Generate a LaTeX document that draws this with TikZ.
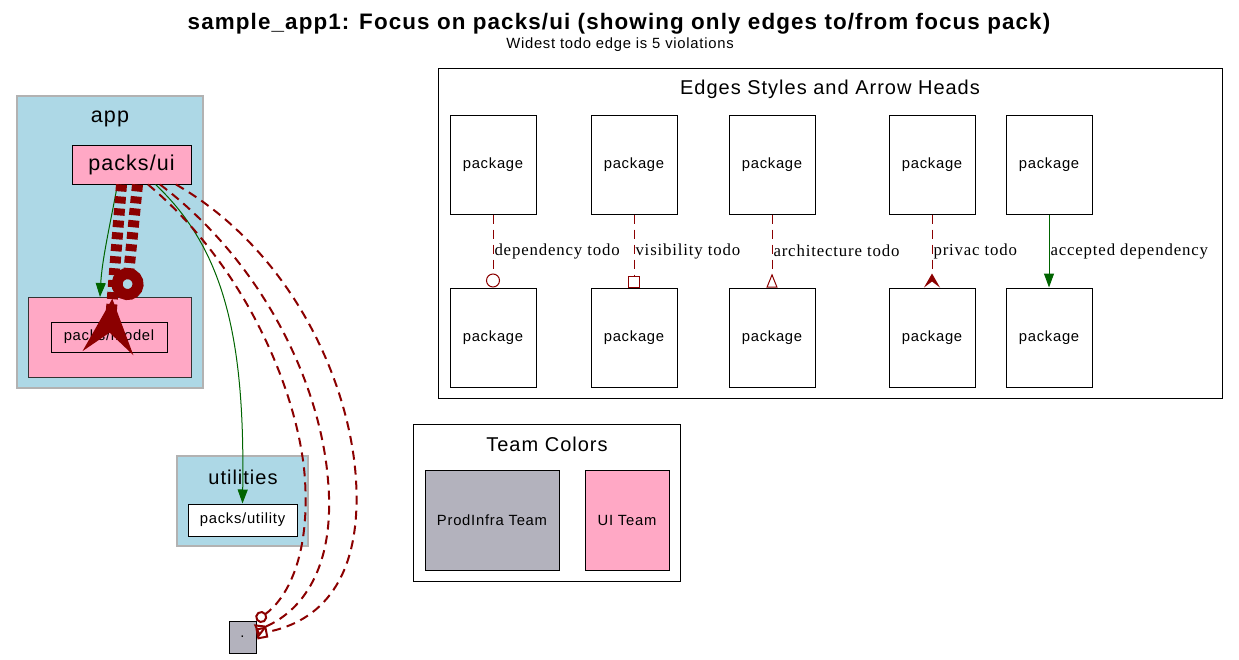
\documentclass[tikz,border=0pt]{standalone}
\usepackage{fontspec}
\setmainfont{Liberation Sans}[LetterSpace=5]
\newfontfamily\edgefont{Liberation Serif}[LetterSpace=5]
\usetikzlibrary{arrows.meta}
\definecolor{darkred}{HTML}{8B0000}
\definecolor{darkgreen}{HTML}{006400}
\definecolor{clusterblue}{HTML}{ADD8E6}
\definecolor{uipink}{HTML}{FFA8C5}
\definecolor{infragray}{HTML}{B3B2BD}

\begin{document}
\begin{tikzpicture}[x=1pt, y=-1pt, line width=1pt,
    smalltext/.style={font=\fontsize{14.8}{17}\selectfont},
    bigtext/.style={font=\fontsize{20}{24}\selectfont},
    pkg/.style={draw, smalltext, minimum width=86pt, minimum height=99pt, inner sep=0pt},
    cluster/.style={draw=black!30, fill=clusterblue, line width=1.5pt},
    todo/.style={draw=darkred, dash pattern=on 9pt off 6pt},
    bigtodo/.style={draw=darkred, line width=11pt, dash pattern=on 7pt off 5pt},
    accepted/.style={draw=darkgreen, -{Triangle[length=14pt, width=10pt]}},
    lbl/.style={anchor=west, inner sep=1pt, font=\edgefont\fontsize{16.8}{20}\selectfont}]
  \useasboundingbox (0,0) rectangle (1239,659);

  \node[font=\bfseries\fontsize{22.4}{26}\selectfont] (title) at (619,24)
    {sample\_app1: Focus on packs/ui (showing only edges to/from focus pack)};
  \node[smalltext] (subtitle) at (620,45) {Widest todo edge is 5 violations};

  % app
  \draw[cluster] (17,96) rectangle (203,388);
  \node[font=\fontsize{21.5}{25}\selectfont] (app) at (110,119) {app};
  \node[draw, fill=uipink, minimum width=119pt, minimum height=39pt, inner sep=0pt,
        font=\fontsize{21.5}{25}\selectfont] (ui) at (131.5,164.5) {packs/ui};
  \draw[draw=black!80, fill=uipink] (28,297) rectangle (191,377);
  \node[draw, fill=uipink, smalltext, minimum width=116pt, minimum height=30pt,
        inner sep=0pt] (model) at (109,337) {packs/model};
  \coordinate (modeltop) at (100,297);
  \coordinate (modeltip) at (126,300);

  % utilities
  \draw[cluster] (177,456) rectangle (308,546);
  \node[bigtext] (utilities) at (243,477) {utilities};
  \node[draw, fill=white, smalltext, minimum width=109pt, minimum height=32pt,
        inner sep=0pt] (utility) at (242.5,520) {packs/utility};

  \node[draw, fill=infragray, smalltext, minimum width=27pt, minimum height=32pt,
        inner sep=0pt] (dot) at (242.5,637) {.};

  % edges from packs/ui
  \draw[accepted] ([xshift=-14pt]ui.south) .. controls (110,225) and (102,260) .. (modeltop);
  \draw[bigtodo, -{Stealth[reversed, length=54pt, width=50pt, inset=20pt]}]
    ([xshift=-10pt]ui.south) -- ([xshift=-1pt]model.south);
  \draw[bigtodo, -{Circle[open, length=32pt]}] ([xshift=6pt]ui.south) -- (modeltip);
  \draw[accepted] ([xshift=24pt]ui.south) .. controls (225,250) and (245,340) .. (utility.north);
  \draw[todo, line width=2pt, -{Circle[open, length=12pt]}]
    ([xshift=16.5pt]ui.south) .. controls (250,270) and (300,400) .. (305,480)
    .. controls (310,560) and (285,600) .. (dot.50);
  \draw[todo, line width=2pt, -{Triangle[open, reversed, length=12pt, width=13pt]}]
    ([xshift=28.5pt]ui.south) .. controls (260,260) and (320,380) .. (328,480)
    .. controls (336,570) and (300,612) .. (dot.25);
  \draw[todo, line width=2pt, -{Square[open, length=11pt, width=11pt]}]
    ([xshift=44.5pt]ui.south) .. controls (290,250) and (350,380) .. (356,480)
    .. controls (362,580) and (320,622) .. (dot.12);

  % legend
  \draw (438,68) rectangle (1222,398);
  \node[bigtext] (legend) at (830,89) {Edges Styles and Arrow Heads};
  \foreach \x [count=\i] in {493,634,772,932,1049} {
    \node[pkg] (top\i) at (\x,164.5) {package};
    \node[pkg] (bottom\i) at (\x,337.5) {package};
  }
  \draw[todo, -{Circle[open, length=14pt]}] (top1) -- node[lbl] {dependency todo} (bottom1);
  \draw[todo, -{Square[open, length=12pt, width=12pt]}] (top2) -- node[lbl] {visibility todo} (bottom2);
  \draw[todo, -{Triangle[open, reversed, length=14pt, width=11pt]}] (top3) -- node[lbl] {architecture todo} (bottom3);
  \draw[todo, -{Stealth[reversed, length=14pt, width=16pt, inset=6pt]}] (top4) -- node[lbl] {privac todo} (bottom4);
  \draw[accepted] (top5) -- node[lbl] {accepted dependency} (bottom5);

  % teams
  \draw (413,424) rectangle (680,581);
  \node[bigtext] (teams) at (547,444) {Team Colors};
  \node[draw, fill=infragray, smalltext, minimum width=134pt, minimum height=100pt] (prodinfra) at (492,520) {ProdInfra Team};
  \node[draw, fill=uipink, smalltext, minimum width=84pt, minimum height=100pt] (uiteam) at (627,520) {UI Team};
\end{tikzpicture}
\end{document}
